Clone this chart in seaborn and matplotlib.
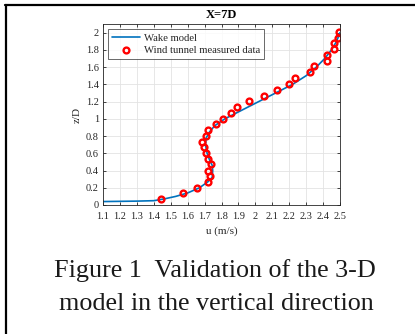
import numpy as np
import pandas as pd
import seaborn as sns
import matplotlib
matplotlib.use("Agg")
import matplotlib.pyplot as plt
from matplotlib.lines import Line2D

# Wake model curve (u in m/s, z/D)
model_u = [1.10, 1.30, 1.40, 1.46, 1.53, 1.60, 1.67, 1.72, 1.745, 1.748, 1.745, 1.73, 1.715,
           1.705, 1.71, 1.73, 1.76, 1.82, 1.92, 2.02, 2.12, 2.22, 2.30, 2.33, 2.36, 2.41,
           2.45, 2.48, 2.50]
model_z = [0.04, 0.045, 0.05, 0.07, 0.10, 0.14, 0.20, 0.27, 0.32, 0.40, 0.46, 0.52, 0.60,
           0.70, 0.78, 0.85, 0.92, 1.00, 1.10, 1.20, 1.30, 1.40, 1.50, 1.55, 1.60, 1.70,
           1.80, 1.90, 2.00]

# Wind tunnel measured data
meas_u = [1.444, 1.574, 1.655, 1.718, 1.732, 1.720, 1.736, 1.718, 1.707, 1.699, 1.687,
          1.708, 1.722, 1.769, 1.811, 1.854, 1.893, 1.962, 2.049, 2.126, 2.199, 2.234,
          2.323, 2.346, 2.421, 2.423, 2.463, 2.467, 2.489, 2.494]
meas_z = [0.07, 0.14, 0.20, 0.27, 0.34, 0.40, 0.47, 0.535, 0.60, 0.67, 0.735, 0.805,
          0.87, 0.935, 1.00, 1.07, 1.14, 1.205, 1.27, 1.34, 1.40, 1.47, 1.54, 1.61,
          1.675, 1.745, 1.81, 1.875, 1.94, 2.005]

x_ticks = [1.1, 1.2, 1.3, 1.4, 1.5, 1.6, 1.7, 1.8, 1.9, 2.0, 2.1, 2.2, 2.3, 2.4, 2.5]
x_ticklabels = ["1.1", "1.2", "1.3", "1.4", "1.5", "1.6", "1.7", "1.8", "1.9", "2",
                "2.1", "2.2", "2.3", "2.4", "2.5"]
y_ticks = [0, 0.2, 0.4, 0.6, 0.8, 1.0, 1.2, 1.4, 1.6, 1.8, 2.0]
y_ticklabels = ["0", "0.2", "0.4", "0.6", "0.8", "1", "1.2", "1.4", "1.6", "1.8", "2"]

sns.set_theme(style="white")
plt.rcParams['font.family'] = ['Liberation Serif', 'DejaVu Serif']
plt.rcParams['mathtext.fontset'] = 'stix'

W, H = 415, 334
fig = plt.figure(figsize=(W / 100, H / 100), dpi=100)
fig.patch.set_facecolor("white")

ax = fig.add_axes([103 / W, 1 - 205 / H, (340 - 103) / W, (205 - 24) / H])

df_model = pd.DataFrame({"u": model_u, "z": model_z})
df_meas = pd.DataFrame({"u": meas_u, "z": meas_z})

sns.lineplot(data=df_model, x="u", y="z", sort=False, estimator=None, ax=ax,
             color="#0072BD", linewidth=1.2, label="Wake model")
ax.plot(df_meas["u"], df_meas["z"], linestyle="none", marker="o", markersize=4.2,
        markerfacecolor="none", markeredgecolor="#FF0000", markeredgewidth=1.7,
        label="Wind tunnel measured data")

ax.set_xlim(1.1, 2.5)
ax.set_ylim(0, 2.1)
ax.set_xticks(x_ticks)
ax.set_xticklabels(x_ticklabels)
ax.set_yticks(y_ticks)
ax.set_yticklabels(y_ticklabels)
ax.grid(True, color="#e3e3e3", linewidth=0.6)
ax.tick_params(direction="in", length=2.5, width=0.6, labelsize=7.5, colors="#262626",
               top=True, right=True, bottom=True, left=True)
ax.tick_params(axis="x", pad=5)
ax.tick_params(axis="y", pad=3)
for s in ax.spines.values():
    s.set_visible(True)
    s.set_color("#262626")
    s.set_linewidth(0.6)

ax.set_xlabel("u (m/s)", fontsize=8, color="#262626", labelpad=4)
ax.set_ylabel("z/D", fontsize=8, color="#262626", labelpad=3)
ax.set_title("X=7D", fontsize=9, fontweight="bold", color="black", pad=4.5)

leg = ax.legend(loc="upper left", fontsize=7.7, frameon=True, fancybox=False,
                borderpad=0.35, labelspacing=0.3, handlelength=2.6, handletextpad=0.4,
                borderaxespad=0.5)
leg.get_frame().set_edgecolor("#262626")
leg.get_frame().set_linewidth(0.6)

fig.text(215 / W, 1 - 271 / H, "Figure 1  Validation of the 3-D", ha="center", va="center",
         fontsize=18.8, color="#1a1a1a")
fig.text(216 / W, 1 - 304 / H, "model in the vertical direction", ha="center", va="center",
         fontsize=18.8, color="#1a1a1a")

# Frame around the figure (top and left edges visible)
fig.add_artist(Line2D([5 / W, 1.0], [1 - 5 / H, 1 - 5 / H], color="black", linewidth=1.6,
                      transform=fig.transFigure))
fig.add_artist(Line2D([6 / W, 6 / W], [1 - 5 / H, 0.0], color="black", linewidth=1.6,
                      transform=fig.transFigure))

fig.savefig("out.png", dpi=100)
